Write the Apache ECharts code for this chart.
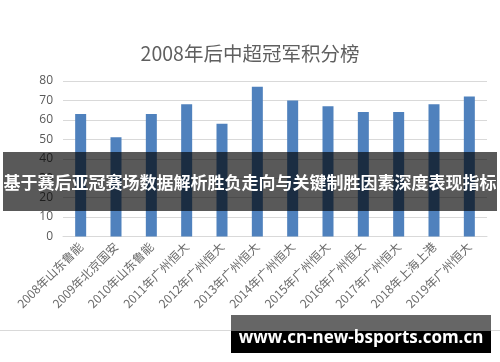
<!DOCTYPE html>
<html><head><meta charset="utf-8">
<script src="https://cdn.jsdelivr.net/npm/echarts@6/dist/echarts.min.js"></script>
<style>html,body{margin:0;padding:0;background:#fff;}#c{width:500px;height:362px;}</style>
</head><body><div id="c"></div>
<script>
const titleText = '2008年后中超冠军积分榜';
const categories = ['2008年山东鲁能','2009年北京国安','2010年山东鲁能','2011年广州恒大','2012年广州恒大','2013年广州恒大','2014年广州恒大','2015年广州恒大','2016年广州恒大','2017年广州恒大','2018年上海上港','2019年广州恒大'];
const points = [63, 51, 63, 68, 58, 77, 70, 67, 64, 64, 68, 72];
const yTicks = [0, 10, 20, 30, 40, 50, 60, 70, 80];
const bannerText = '基于赛后亚冠赛场数据解析胜负走向与关键制胜因素深度表现指标';
const footerText = 'www.cn-new-bsports.com.cn';

const chart = echarts.init(document.getElementById('c'), null, {renderer: 'canvas'});
const font = '"Noto Sans CJK SC", "Noto Sans", sans-serif';
chart.setOption({
  animation: false,
  backgroundColor: '#fff',
  title: {
    text: titleText, left: 'center', top: 39,
    textStyle: {color: '#5f5f5f', fontSize: 19.5, fontWeight: 'normal', fontFamily: font}
  },
  grid: {left: 63, right: 13, top: 81, bottom: 125.5},
  xAxis: {
    type: 'category', data: categories,
    axisLine: {lineStyle: {color: '#d9d9d9'}},
    axisTick: {show: false},
    axisLabel: {interval: 0, rotate: 45, color: '#6a6a6a', fontSize: 12, margin: 8, fontFamily: font}
  },
  yAxis: {
    type: 'value', min: yTicks[0], max: yTicks[yTicks.length - 1], interval: 10,
    axisLine: {show: false}, axisTick: {show: false},
    splitLine: {lineStyle: {color: '#d9d9d9'}},
    axisLabel: {color: '#595959', fontSize: 12, margin: 10, fontFamily: '"Open Sans", sans-serif'}
  },
  series: [{
    type: 'bar', data: points, barWidth: 11,
    itemStyle: {color: '#4F81BD'}
  }],
  graphic: [
    {type: 'line', z: 50, shape: {x1: 0, y1: 330.5, x2: 500, y2: 330.5}, style: {stroke: '#d9d9d9', lineWidth: 1}},
    {type: 'rect', z: 100, shape: {x: 3, y: 152, width: 494, height: 59}, style: {fill: 'rgba(0,0,0,0.65)'}},
    {type: 'text', z: 101, x: 250, y: 183, style: {text: bannerText, fill: '#fff', align: 'center', verticalAlign: 'middle', font: 'bold 17px "Noto Sans CJK SC", sans-serif'}},
    {type: 'rect', z: 100, shape: {x: 231, y: 315, width: 260, height: 16}, style: {fill: '#666666'}},
    {type: 'rect', z: 100, shape: {x: 231, y: 331, width: 260, height: 22}, style: {fill: '#000000'}},
    {type: 'text', z: 101, x: 361, y: 338, style: {text: footerText, fill: '#fff', align: 'center', verticalAlign: 'middle', font: 'bold 17px "Open Sans", sans-serif'}}
  ]
});
</script></body></html>
